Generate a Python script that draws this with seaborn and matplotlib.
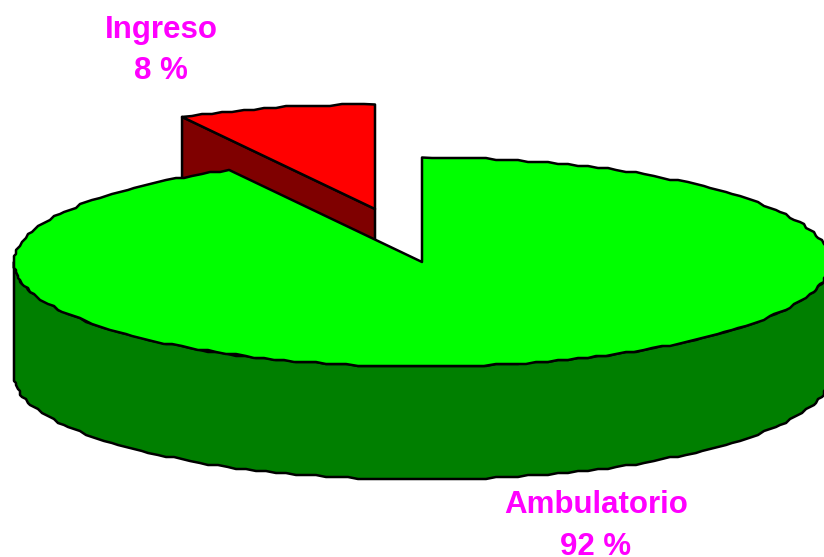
import numpy as np
import matplotlib
matplotlib.use("Agg")
import matplotlib.pyplot as plt
import seaborn as sns

# Data
categories = ["Ambulatorio", "Ingreso"]
shares = [92.16, 7.84]
top_colors = ["#00FF00", "#FF0000"]
side_colors = ["#007F00", "#7F0000"]

# Pie geometry in picture pixels
CENTER = (422, 262)
RX, RY = 408, 104.5
DEPTH = 113
EXPLODE = (-47, -53)  # offset of the Ingreso slice


def arc(center, t0, t1, step=1.5, snap=2):
    """Points of the ellipse, t in degrees clockwise from 12 o'clock."""
    n = max(int(abs(t1 - t0) / step), 1)
    t = np.radians(np.linspace(t0, t1, n + 1))
    x = center[0] + RX * np.sin(t)
    y = center[1] - RY * np.cos(t)
    # the original is a coarse metafile outline, so keep the edge a bit rough
    x[1:-1] = np.round(x[1:-1] / snap) * snap
    y[1:-1] = np.round(y[1:-1] / snap) * snap
    return x, y


def draw_edge(ax, xs, ys, color, z):
    ax.fill(xs, ys, facecolor=color, edgecolor="black", linewidth=1.8,
            joinstyle="round", zorder=z)


sns.set_theme(style="white")
plt.rcParams["font.family"] = ["Liberation Sans", "DejaVu Sans"]

fig = plt.figure(figsize=(8.24, 5.57), dpi=100)
ax = fig.add_axes([0, 0, 1, 1])
ax.set_xlim(0, 824)
ax.set_ylim(557, 0)
ax.axis("off")

green_angle = 360 * shares[0] / sum(shares)

# Ingreso slice, pulled away from the pie
red_center = (CENTER[0] + EXPLODE[0], CENTER[1] + EXPLODE[1])
x, y = arc(red_center, green_angle, 360)
draw_edge(ax, [x[0], red_center[0], red_center[0], x[0]],
          [y[0], red_center[1], red_center[1] + DEPTH, y[0] + DEPTH], side_colors[1], 1)
draw_edge(ax, [red_center[0], *x], [red_center[1], *y], top_colors[1], 2)

# Ambulatorio slice: front wall first, then the top face
x, y = arc(CENTER, 90, 270)
wall_x = np.concatenate([x, x[::-1]])
wall_y = np.concatenate([y, y[::-1] + DEPTH])
draw_edge(ax, wall_x, wall_y, side_colors[0], 3)
x, y = arc(CENTER, 0, green_angle)
draw_edge(ax, [CENTER[0], *x], [CENTER[1], *y], top_colors[0], 4)

# Labels, positioned by their baselines
label_pos = [(596, 513, 555), (161, 38, 79)]
for name, share, (lx, y1, y2) in zip(categories, shares, label_pos):
    ax.text(lx, y1, name, color="#FF00FF", fontsize=22.5, fontweight="bold",
            ha="center", va="baseline", zorder=5)
    ax.text(lx, y2, f"{round(share)} %", color="#FF00FF", fontsize=22.5, fontweight="bold",
            ha="center", va="baseline", zorder=5)

fig.savefig("out.png", dpi=100)
